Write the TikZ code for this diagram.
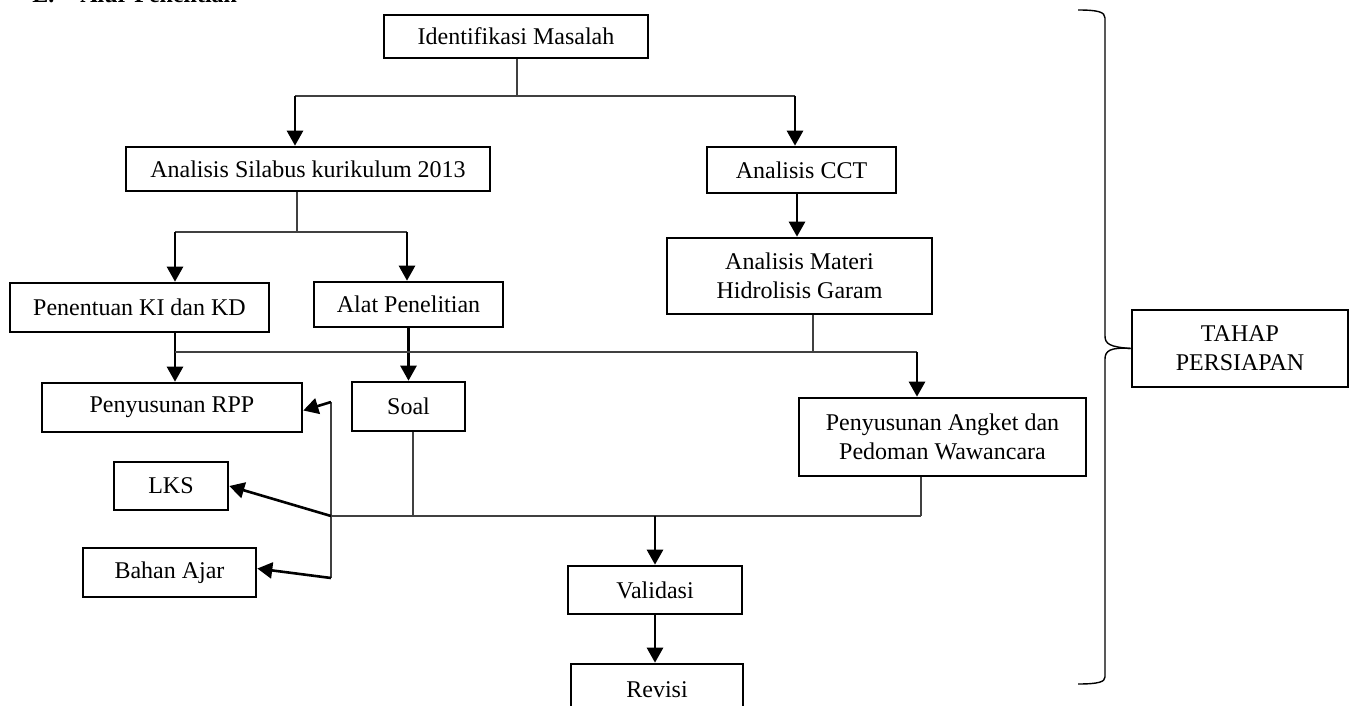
\documentclass[tikz,border=0pt]{standalone}
\usepackage{fontspec}
\setmainfont{Liberation Serif}
\usetikzlibrary{arrows.meta,calc}
\begin{document}
\begin{tikzpicture}[x=0.5pt,y=-0.5pt,
  box/.style={draw,line width=1.3pt,inner sep=0pt,align=center,font=\fontsize{12}{14.5}\selectfont},
  ln/.style={line width=0.9pt,black!75},
  arr/.style={line width=1.3pt,-{Triangle[length=7.5pt,width=8pt]}},
  bracestyle/.style={line width=0.7pt}]
\useasboundingbox (0,0) rectangle (1350,706);
\clip (0,0) rectangle (1350,706);

% heading (partly cut off at top)
\node[anchor=base west,inner sep=0pt,font=\fontsize{12}{14.5}\selectfont\bfseries] (head) at (32,3) {\makebox[24pt][l]{E.}Alur Penelitian};

% boxes
\node[box,minimum width=132pt,minimum height=21.5pt] (idm) at (516,36.5) {Identifikasi Masalah};
\node[box,minimum width=182pt,minimum height=22pt] (sil) at (308,169) {\raisebox{-2pt}{Analisis Silabus kurikulum 2013}};
\node[box,minimum width=94.5pt,minimum height=23pt] (cct) at (801.5,170) {Analisis CCT};
\node[box,minimum width=132.5pt,minimum height=38pt] (mat) at (799.5,276) {Analisis Materi\\Hidrolisis Garam};
\node[box,minimum width=129.5pt,minimum height=24.5pt] (ki) at (139.5,307.5) {Penentuan KI dan KD};
\node[box,minimum width=94.5pt,minimum height=22.5pt] (alat) at (408.5,304.5) {Alat Penelitian};
\node[box,minimum width=130pt,minimum height=24.5pt] (rpp) at (172,407.5) {Penyusunan RPP};
\node[box,minimum width=56.5pt,minimum height=24.5pt] (soal) at (408.5,406.5) {Soal};
\node[box,minimum width=143.5pt,minimum height=39pt] (ang) at (942.5,437) {Penyusunan Angket dan\\Pedoman Wawancara};
\node[box,minimum width=57pt,minimum height=24pt] (lks) at (171,486) {LKS};
\node[box,minimum width=86.5pt,minimum height=24.5pt] (bah) at (169.5,572.5) {Bahan Ajar};
\node[box,minimum width=87pt,minimum height=24pt] (val) at (655,590) {Validasi};
\node[box,minimum width=86pt,minimum height=26pt] (rev) at (657,690) {Revisi};
\node[box,minimum width=108pt,minimum height=38.5pt] (tahap) at (1240,348.5) {TAHAP\\PERSIAPAN};

% junction coordinates
\coordinate (j1) at (517,96);
\coordinate (j1l) at (295,96);
\coordinate (j1r) at (795,96);
\coordinate (j2) at (297,232);
\coordinate (j2l) at (175,232);
\coordinate (j2r) at (407,232);
\coordinate (j3) at (813,352);
\coordinate (j3l) at (175,352);
\coordinate (j3r) at (917,352);
\coordinate (j4l) at (331,516);
\coordinate (j4s) at (413,516);
\coordinate (j4v) at (655,516);
\coordinate (j4r) at (921,516);
\coordinate (vtop) at (331,402);
\coordinate (vbot) at (331,578);

% Identifikasi -> Silabus / CCT
\draw[ln] (idm.south -| j1) -- (j1);
\draw[ln] (j1l) -- (j1r);
\draw[arr] (j1l) -- (j1l |- sil.north);
\draw[arr] (j1r) -- (j1r |- cct.north);

% Silabus -> KI / Alat
\draw[ln] (sil.south -| j2) -- (j2);
\draw[ln] (j2l) -- (j2r);
\draw[arr] (j2l) -- (j2l |- ki.north);
\draw[arr] (j2r) -- (j2r |- alat.north);

% CCT -> Materi
\draw[arr] (cct.south -| 797,0) -- (797,0 |- mat.north);

% KI -> RPP, Alat -> Soal, Materi -> Angket
\draw[arr] (ki.south -| j3l) -- (j3l |- rpp.north);
\draw[arr] (alat.south) -- (soal.north);
\draw[ln] (mat.south -| j3) -- (j3);
\draw[ln] (j3l) -- (j3r);
\draw[arr] (j3r) -- (j3r |- ang.north);

% Soal / Angket -> Validasi
\draw[ln] (soal.south -| j4s) -- (j4s);
\draw[ln] (ang.south -| j4r) -- (j4r);
\draw[ln] (j4l) -- (j4r);
\draw[arr] (j4v) -- (val.north);
\draw[arr] (val.south) -- (val.south |- rev.north);

% left branch to RPP, LKS, Bahan Ajar
\draw[ln] (vtop) -- (vbot);
\draw[arr] (vtop) -- ($(rpp.east)+(0,3)$);
\draw[arr] (j4l) -- (lks.east);
\draw[arr] (vbot) -- ($(bah.east)+(0,-4)$);

% brace
\draw[bracestyle] (1078,10) .. controls (1098,10) and (1105,12) .. (1105,18)
  -- (1105,336) .. controls (1105,344) and (1110,347) .. (tahap.west);
\draw[bracestyle] (tahap.west) .. controls (1110,347) and (1105,351) .. (1105,359)
  -- (1105,677) .. controls (1105,682) and (1098,684) .. (1078,684);
\end{tikzpicture}
\end{document}
